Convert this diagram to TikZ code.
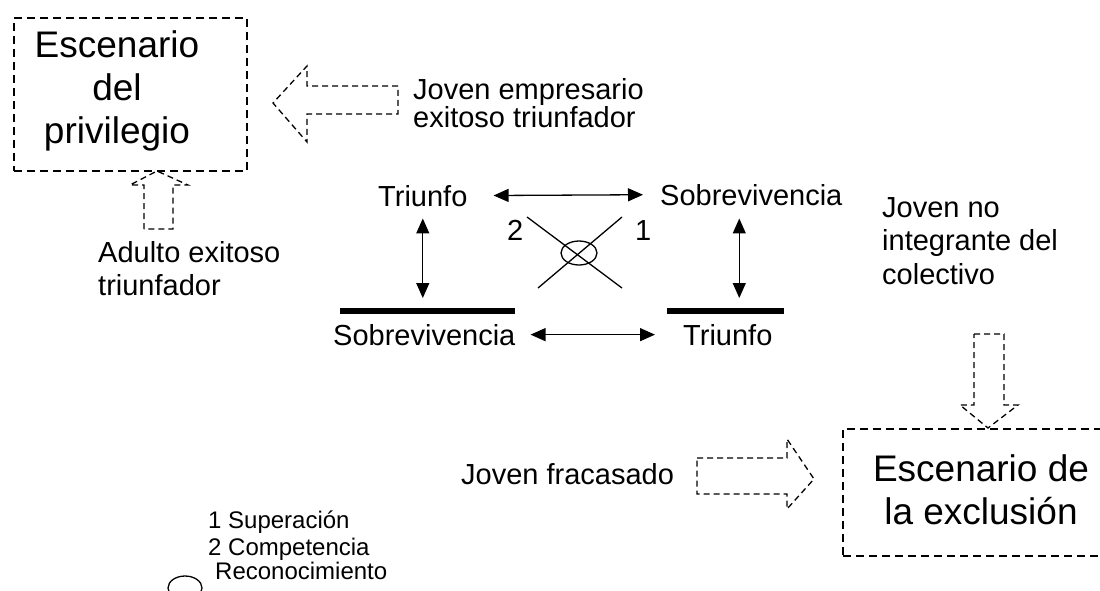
\documentclass[tikz,border=0pt]{standalone}
\usepackage{fontspec}
\setmainfont{Liberation Sans}
\usetikzlibrary{arrows.meta}
\usetikzlibrary{calc}
\usetikzlibrary{positioning}

\begin{document}
\begin{tikzpicture}[ x=1pt, y=-1pt, >={Triangle[length=15pt,width=13pt]},
      txt/.style={inner sep=0pt, anchor=base west, align=left,
        font=\fontsize{29}{33}\selectfont},
      bigtxt/.style={inner sep=0pt, align=center,
        font=\fontsize{37}{43}\selectfont},
      legtxt/.style={inner sep=0pt, anchor=base west,
        font=\fontsize{24}{26}\selectfont},
      scenebox/.style={draw, line width=1.3pt, dash pattern=on 8pt off 5pt},
      blockarrow/.style={draw, line width=1.3pt, dash pattern=on 6pt off 4pt,
        line join=miter},
      link/.style={<->, line width=1.3pt},
      bar/.style={line width=6pt},
      crossline/.style={line width=1.3pt} ]

      \useasboundingbox (0,0) rectangle (1100,590);
      \clip (0,0) rectangle (1100,590);

      % Scenes
      \node[scenebox, minimum width=233pt, minimum height=153pt] (privbox)
      at (130.5,94.5) {}; \node[bigtxt] (privtxt) at (117,91)
      {Escenario\\del\\privilegio};

      \node[scenebox, minimum width=300pt, minimum height=127pt] (exclbox)
      at (993,492.5) {}; \node[bigtxt] (excltxt) at (981,490)
      {Escenario de\\la exclusión};

      % Block arrows into the scenes
      \draw[blockarrow] (398,86) -- (307,86) -- (307,66) -- (273,103) --
      (307,142) -- (307,114) -- (398,114) -- cycle;
      \draw[blockarrow] (144,229) -- (144,185) -- (130,185) -- (157,171) --
      (188,185) -- (173,185) -- (173,229) -- cycle;
      \draw[blockarrow] (974,334) -- (1004,334) -- (1004,405) -- (1018,405)
      -- (988,428) -- (960,405) -- (974,405) -- cycle;
      \draw[blockarrow] (697,458) -- (787,458) -- (787,439) -- (814,479) --
      (787,509) -- (787,494) -- (697,494) -- cycle;

      % Actors (base = last line)
      \node[txt, font=\fontsize{29}{28}\selectfont] (empresario) at (413,127)
      {Joven empresario\\exitoso triunfador};
      \node[txt] (adulto) at (98,295) {Adulto exitoso\\triunfador};
      \node[txt, font=\fontsize{29}{33.5}\selectfont] (nointegrante) at
      (882,284) {Joven no\\integrante del\\colectivo};
      \node[txt] (fracasado) at (461,484) {Joven fracasado};

      % Square of values
      \node[txt] (triunfoA) at (378,206) {Triunfo};
      \node[txt] (sobrevA) at (660,205) {Sobrevivencia};
      \node[txt] (sobrevB) at (333,345) {Sobrevivencia};
      \node[txt] (triunfoB) at (683,345) {Triunfo};

      \coordinate (barA) at (340,311); \coordinate (barB) at (667,311);
      \draw[bar] (barA) -- +(175,0); \draw[bar] (barB) -- +(117,0);

      \draw[link, shorten <=26pt, shorten >=17pt] (triunfoA.east) --
      (sobrevA.west);
      \draw[link, shorten <=15pt, shorten >=28pt] (sobrevB.east) --
      (triunfoB.west);
      \draw[link, shorten <=12pt, shorten >=13pt] (triunfoA.south) --
      (triunfoA.south |- barA);
      \draw[link, shorten <=13pt, shorten >=13pt] ([xshift=-12pt]sobrevA.south)
      -- ([xshift=-12pt]sobrevA.south |- barB);

      % Cross with recognition
      \coordinate (recog) at (579,253);
      \draw[crossline] (527,217) -- (622,288);
      \draw[crossline] (622,217) -- (538,288);
      \draw[crossline] (recog) ellipse[x radius=18, y radius=12];
      \node[txt] (dos) at (507,240) {2}; \node[txt] (uno) at (635,240) {1};

      % Legend
      \node[legtxt] (leg1) at (208,528) {1 Superación};
      \node[legtxt] (leg2) at (208,555) {2 Competencia};
      \node[legtxt] (leg3) at (215,579) {Reconocimiento};
      \draw[crossline] (185,588) ellipse[x radius=17, y radius=12];
    \end{tikzpicture}
\end{document}
